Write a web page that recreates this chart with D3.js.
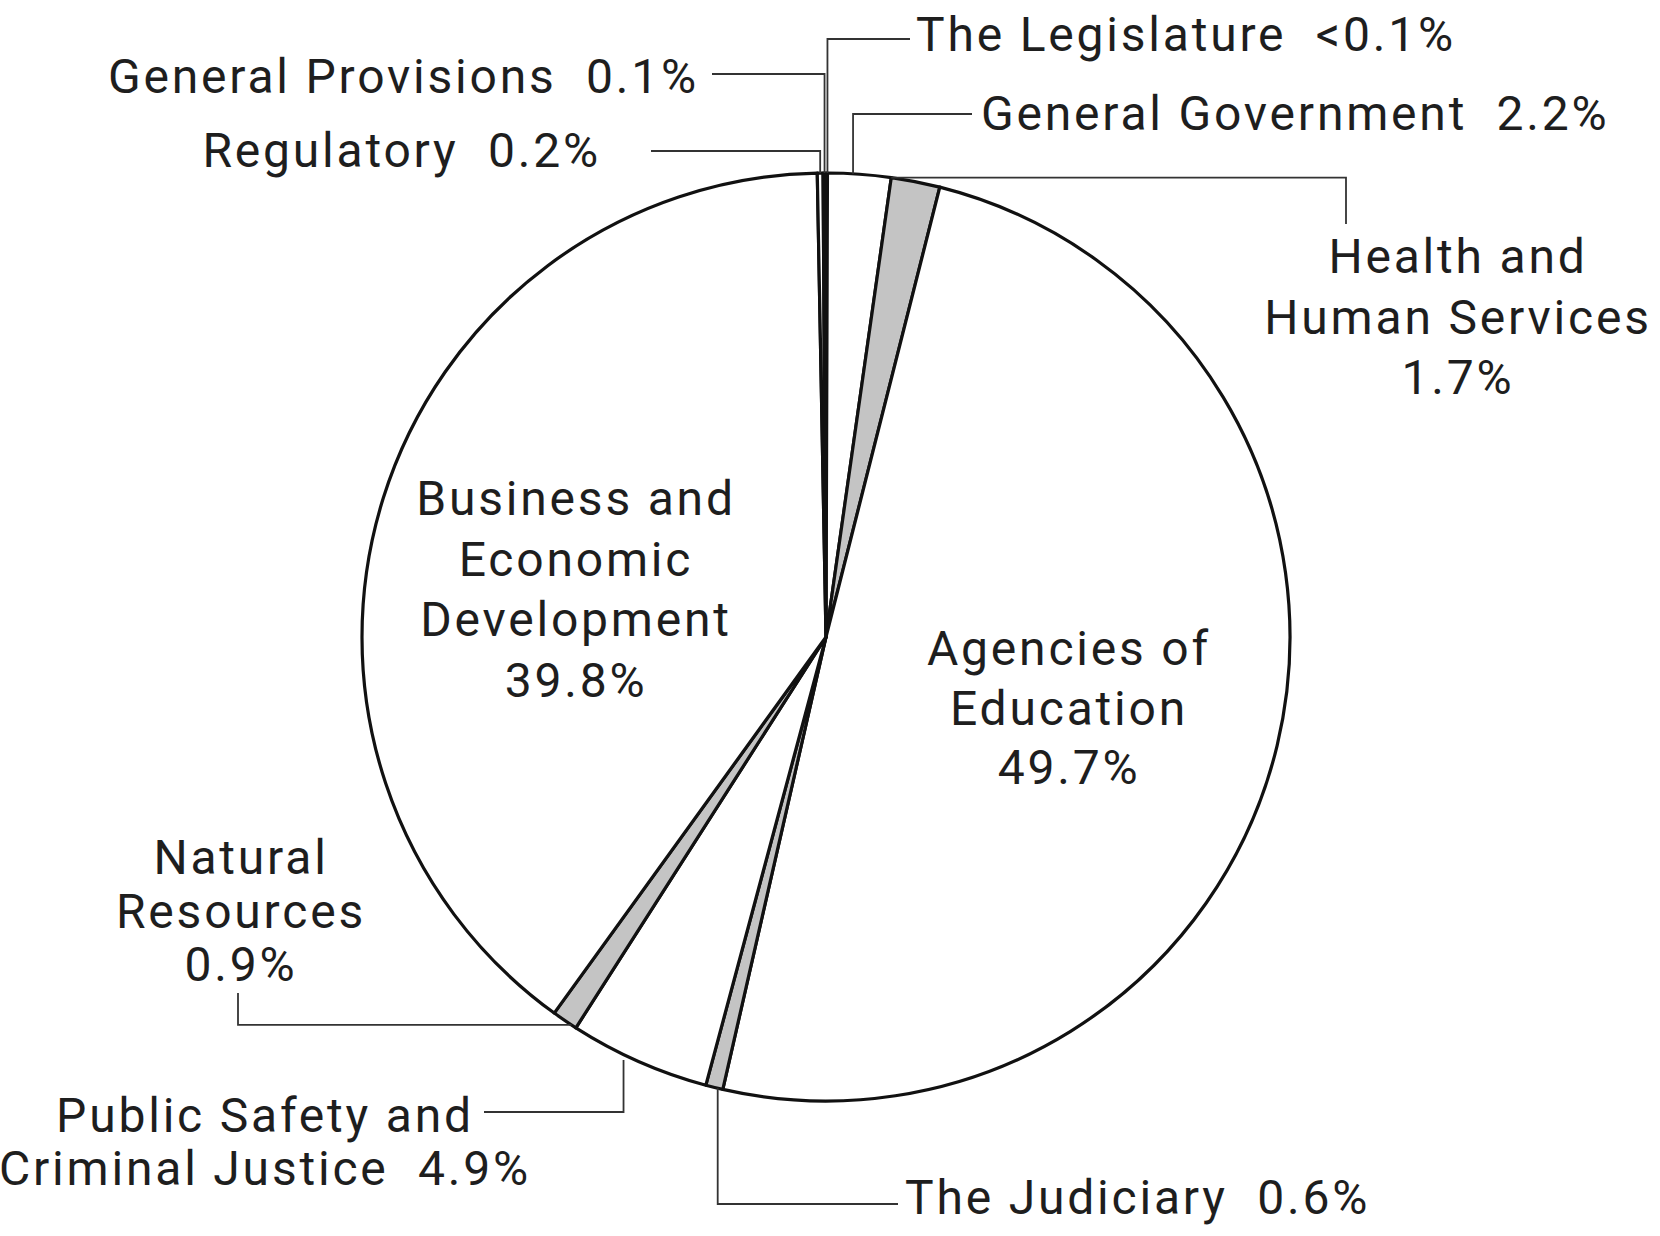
<!DOCTYPE html>
<html>
<head>
<meta charset="utf-8">
<script src="https://cdn.jsdelivr.net/npm/d3@7"></script>
<style>
  html, body { margin: 0; padding: 0; background: #fff; }
  svg { display: block; }
  text { font-family: Roboto, "Liberation Sans", sans-serif; fill: #1e1e1e; white-space: pre; }
</style>
</head>
<body>
<svg id="chart" width="1660" height="1236"></svg>
<script>
// ---- data ----
const categories = [
  "The Legislature",
  "General Government",
  "Health and Human Services",
  "Agencies of Education",
  "The Judiciary",
  "Public Safety and Criminal Justice",
  "Natural Resources",
  "Business and Economic Development",
  "Regulatory",
  "General Provisions"
];
const values = [0.05, 2.2, 1.7, 49.7, 0.6, 4.9, 0.9, 39.8, 0.2, 0.1];
const valueLabels = ["<0.1%", "2.2%", "1.7%", "49.7%", "0.6%", "4.9%", "0.9%", "39.8%", "0.2%", "0.1%"];
const shaded = [false, false, true, false, true, false, true, false, false, false];

// ---- layout ----
const cx = 826, cy = 637, R = 464;
const FS = 48, LS = 2.8;

const svg = d3.select("#chart");
const g = svg.append("g").attr("transform", `translate(${cx},${cy})`);

const pie = d3.pie().sort(null).value(d => d);
const arcs = pie(values);
const arc = d3.arc().innerRadius(0).outerRadius(R);

g.selectAll("path.slice")
  .data(arcs)
  .join("path")
  .attr("class", "slice")
  .attr("d", arc)
  .attr("fill", (d, i) => shaded[i] ? "#c4c4c4" : "#ffffff")
  .attr("stroke", "#111")
  .attr("stroke-width", 3.2)
  .attr("stroke-linejoin", "round");

// rim point of slice i at fraction f of its angular span, in page coordinates
function rim(i, f = 0.5, extra = 0) {
  const a = arcs[i].startAngle + f * (arcs[i].endAngle - arcs[i].startAngle);
  return [cx + (R + extra) * Math.sin(a), cy - (R + extra) * Math.cos(a)];
}

const labels = [
  { lines: [categories[0] + "  " + valueLabels[0]], anchor: "start", x: 916, y: 51, step: 0 },
  { lines: [categories[9] + "  " + valueLabels[9]], anchor: "end", x: 699, y: 93, step: 0 },
  { lines: [categories[1] + "  " + valueLabels[1]], anchor: "start", x: 981, y: 130, step: 0 },
  { lines: [categories[8] + "  " + valueLabels[8]], anchor: "end", x: 601, y: 167, step: 0 },
  { lines: ["Health and", "Human Services", valueLabels[2]], anchor: "middle", x: 1458, y: 273, step: 60.5 },
  { lines: ["Business and", "Economic", "Development", valueLabels[7]], anchor: "middle", x: 576, y: 515, step: 60.5 },
  { lines: ["Agencies of", "Education", valueLabels[3]], anchor: "middle", x: 1069, y: 665, step: 59.5 },
  { lines: ["Natural", "Resources", valueLabels[6]], anchor: "middle", x: 241, y: 874, step: 53.5 },
  { lines: ["Public Safety and", "Criminal Justice  " + valueLabels[5]], anchor: "middle", x: 265, y: 1132, step: 53 },
  { lines: [categories[4] + "  " + valueLabels[4]], anchor: "start", x: 905, y: 1214, step: 0 }
];

const tg = svg.append("g");
labels.forEach(l => {
  const t = tg.append("text")
    .attr("text-anchor", l.anchor)
    .attr("font-size", FS)
    .attr("letter-spacing", LS);
  l.lines.forEach((s, k) => {
    t.append("tspan").attr("x", l.x).attr("y", l.y + k * l.step).text(s);
  });
});

// leader lines (elbow polylines from slice rim to label)
const leaders = [];
{
  let p = rim(0, 1); leaders.push([p, [p[0], 39], [910, 39]]);
  p = rim(9); leaders.push([p, [p[0], 74], [712, 74]]);
  p = rim(1, 0.4); leaders.push([p, [p[0], 114], [972, 114]]);
  p = rim(8); leaders.push([p, [p[0], 151], [651, 151]]);
  p = rim(2, 0); leaders.push([p, [1346, p[1]], [1346, 224]]);
  p = rim(6, 0.2); leaders.push([p, [238, p[1]], [238, 993]]);
  p = rim(5, 0.6, 5); leaders.push([p, [p[0], 1112], [484, 1112]]);
  p = rim(4, 0.3); leaders.push([p, [p[0], 1204], [898, 1204]]);
}
svg.append("g").selectAll("path")
  .data(leaders)
  .join("path")
  .attr("d", d => d3.line()(d))
  .attr("fill", "none")
  .attr("stroke", "#333")
  .attr("stroke-width", 1.8);
</script>
</body>
</html>
